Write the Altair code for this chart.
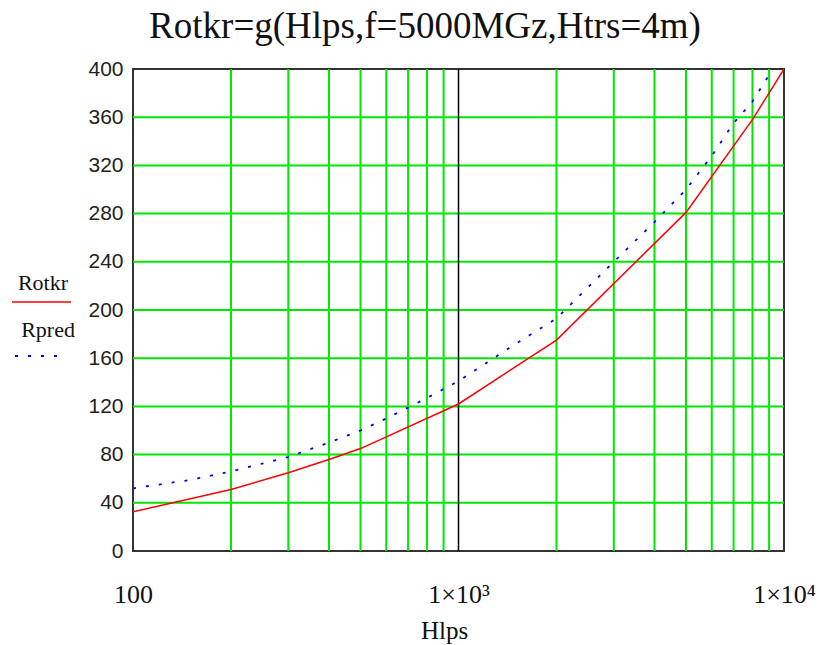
import altair as alt
import pandas as pd

# Data
hlps_rotkr = [100, 200, 300, 400, 500, 1000, 2000, 5000, 8000, 10000]
rotkr = [32.5, 51, 65, 76, 85, 122, 175, 281, 358, 400]

hlps_rpred = [100, 150, 200, 300, 400, 500, 600, 700, 800, 1000, 1500, 2000,
              3000, 4000, 5000, 6000, 7000, 8000, 9000, 10000]
rpred = [52, 59, 66, 78, 90, 100, 110, 119, 127, 141, 172, 193,
         240, 273, 300, 328, 355, 373, 395, 415]

x_grid = [200, 300, 400, 500, 600, 700, 800, 900,
          2000, 3000, 4000, 5000, 6000, 7000, 8000, 9000]
x_major = [1000]
y_ticks = [0, 40, 80, 120, 160, 200, 240, 280, 320, 360, 400]
x_ticks = [100, 1000, 10000]
x_tick_labels = ["100", "1×10³", "1×10⁴"]

title_text = "Rotkr=g(Hlps,f=5000MGz,Htrs=4m)"
SERIF = "Liberation Serif"
SANS = "Liberation Sans"
GREEN = "#00e800"

W, H = 651, 482

df_r = pd.DataFrame({"x": hlps_rotkr, "y": rotkr})
df_p = pd.DataFrame({"x": hlps_rpred, "y": rpred})
df_gx = pd.DataFrame({"x": x_grid})
df_gy = pd.DataFrame({"y": y_ticks[1:-1]})
df_maj = pd.DataFrame({"x": x_major})

label_expr = " : ".join(
    f"datum.value == {v} ? '{t}'" for v, t in zip(x_ticks[:-1], x_tick_labels[:-1])
) + f" : '{x_tick_labels[-1]}'"

xscale = alt.Scale(type="log", domain=[100, 10000], nice=False)
yscale = alt.Scale(domain=[0, 400], nice=False)

xaxis = alt.Axis(values=x_ticks, labelExpr=label_expr, grid=False, ticks=False,
                 domain=False, labelPadding=30, labelFlush=False, title="Hlps",
                 titleX=311, titleY=79, titleBaseline="middle")
yaxis = alt.Axis(values=y_ticks, grid=False, ticks=False, domain=False,
                 labelPadding=10, title=None)

gx = alt.Chart(df_gx).mark_rule(color=GREEN, strokeWidth=2).encode(
    x=alt.X("x:Q", scale=xscale, axis=xaxis))
gy = alt.Chart(df_gy).mark_rule(color=GREEN, strokeWidth=2).encode(
    y=alt.Y("y:Q", scale=yscale, axis=yaxis))
maj = alt.Chart(df_maj).mark_rule(color="#000", strokeWidth=1.5).encode(
    x=alt.X("x:Q", scale=xscale))

line_r = alt.Chart(df_r).mark_line(color="#ff0000", strokeWidth=1.5, clip=True).encode(
    x=alt.X("x:Q", scale=xscale), y=alt.Y("y:Q", scale=yscale))
line_p = alt.Chart(df_p).mark_line(color="#0000ff", strokeWidth=1.8,
                                    strokeDash=[3, 10], clip=True).encode(
    x=alt.X("x:Q", scale=xscale), y=alt.Y("y:Q", scale=yscale))

one = alt.Data(values=[{}])
leg_r_txt = alt.Chart(one).mark_text(text="Rotkr", font=SERIF, fontSize=22,
                                     color="#111").encode(
    x=alt.value(-90), y=alt.value(214))
leg_r_line = alt.Chart(one).mark_rule(color="#ff0000", strokeWidth=1.5).encode(
    x=alt.value(-121), x2=alt.value(-62), y=alt.value(233))
leg_p_txt = alt.Chart(one).mark_text(text="Rpred", font=SERIF, fontSize=22,
                                     color="#111").encode(
    x=alt.value(-85), y=alt.value(261))
leg_p_line = alt.Chart(one).mark_rule(color="#0000ff", strokeWidth=1.8,
                                      strokeDash=[3, 10]).encode(
    x=alt.value(-118), x2=alt.value(-70), y=alt.value(287))
title = alt.Chart(one).mark_text(text=title_text, font=SERIF, fontSize=37,
                                 color="#111", baseline="alphabetic").encode(
    x=alt.value(292), y=alt.value(-31))

chart = alt.layer(gx, gy, maj, line_p, line_r, leg_r_txt, leg_r_line,
                  leg_p_txt, leg_p_line, title).properties(
    width=W, height=H,
    autosize=alt.AutoSizeParams(type="none"),
    padding={"left": 133, "top": 69, "right": 35, "bottom": 94},
    background="white",
).configure_view(stroke="#333", strokeWidth=2
).configure_axisX(
    labelFont=SERIF, labelFontSize=26, labelColor="#111",
    titleFont=SERIF, titleFontSize=25, titleFontWeight="normal", titleColor="#111",
).configure_axisY(
    labelFont=SANS, labelFontSize=21, labelColor="#222",
)

chart.save("out.html", embed_options={"renderer": "svg", "actions": False})
